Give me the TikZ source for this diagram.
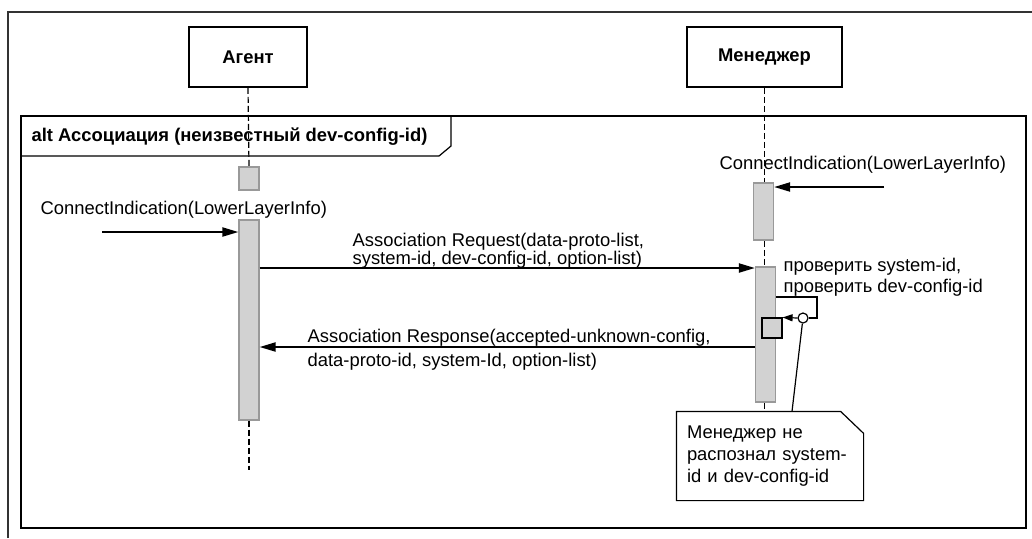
\documentclass[tikz,border=0pt]{standalone}
\usepackage{fontspec}
\setmainfont{Liberation Sans}
\usetikzlibrary{arrows.meta}

\begin{document}
\begin{tikzpicture}[x=.5pt,y=-.5pt,
  every node/.style={font=\fontsize{9.2}{11}\selectfont},
  lbl/.style={inner sep=0pt,anchor=west,align=left},
  lifebox/.style={draw,line width=.8pt,minimum height=30pt,font=\fontsize{9.2}{11}\selectfont\bfseries},
  actbar/.style={draw=gray!80,fill=gray!35,minimum width=10pt,inner sep=0pt},
  msg/.style={line width=1pt,-{Triangle[length=8pt,width=4.5pt]}},
  lifeline/.style={dash pattern=on 3pt off 1.5pt,line width=.6pt}]
\pgfsetlinewidth{.6pt}
\useasboundingbox (0,0) rectangle (1032,538);
% outer frame
\draw[line width=.8pt,black!80] (8,538) -- (8,12) -- (1032,12);
%
% lifelines
\node[lifebox,minimum width=59pt] (agent) at (248,57) {Агент};
\node[lifebox,minimum width=77.5pt] (manager) at (764.5,57) {Менеджер};
\node[text width=83pt,inner xsep=5pt,minimum height=44pt,align=left] (note) at (770,456)
  {\baselineskip=11.25pt Менеджер не\\распознал system-\\id и dev-config-id};
\draw[lifeline] (manager.south) -- (manager.south |- note.north);
%
% alt frame
\draw[line width=1pt] (21,116) rectangle (1026,528);
\node[lbl,font=\fontsize{9.2}{11}\selectfont\bfseries] (altlabel) at (31,137)
  {alt Ассоциация (неизвестный dev-config-id)};
\draw (451,116) -- (451,146) -- (439,156) -- (21,156);
%
% activation bars
\node[actbar,minimum height=11.5pt] (a1) at (249,178.5) {};
\node[actbar,minimum height=100pt] (a2) at (249,320) {};
\node[actbar,minimum height=28.5pt] (m1) at (763.5,211.5) {};
\node[actbar,minimum height=67.5pt] (m2) at (765.5,334.5) {};
\node[actbar,draw=black,minimum height=10pt] (nest) at (772,328) {};
\coordinate (agentend) at (249,470);
\draw[lifeline] (agent.south) -- (a1.north);
\draw[lifeline] (a2.south) -- (agentend);
%
% messages
\coordinate (ciA) at (102,232);
\coordinate (ciM) at (884,187);
\node[lbl] (ciAlabel) at (40,210) {ConnectIndication(LowerLayerInfo)};
\node[lbl] (ciMlabel) at (719,165) {ConnectIndication(LowerLayerInfo)};
\draw[msg] (ciA) -- (ciA -| a2.west);
\draw[msg] (ciM) -- (ciM -| m1.east);
\node[lbl,font=\fontsize{9.2}{9}\selectfont] (reqlabel) at (352,251)
  {Association Request(data-proto-list,\\system-id, dev-config-id, option-list)};
\draw[msg] (a2.east |- 0,268) -- (m2.west |- 0,268);
\node[lbl,font=\fontsize{9.2}{12}\selectfont] (resplabel) at (307,350)
  {Association Response(accepted-unknown-config,\\data-proto-id, system-Id, option-list)};
\draw[msg] (m2.west |- 0,347) -- (a2.east |- 0,347);
%
% self call and note
\node[lbl,font=\fontsize{9.2}{10.5}\selectfont] (checklabel) at (783,277.5)
  {проверить system-id,\\проверить dev-config-id};
\node[circle,draw,fill=white,inner sep=0pt,minimum size=5pt] (anch) at (803,318) {};
\draw (m2.east |- 0,297) -| (817,318) -- (anch.east);
\draw[-{Triangle[length=5pt,width=3.5pt]}] (anch.west) -- (nest.north east);
\draw (anch) -- (note.north -| 792,0);
\draw (note.north west) -- ([xshift=-11.5pt]note.north east)
  -- ([yshift=-11pt]note.north east) -- (note.south east)
  -- (note.south west) -- cycle;
\end{tikzpicture}
\end{document}
